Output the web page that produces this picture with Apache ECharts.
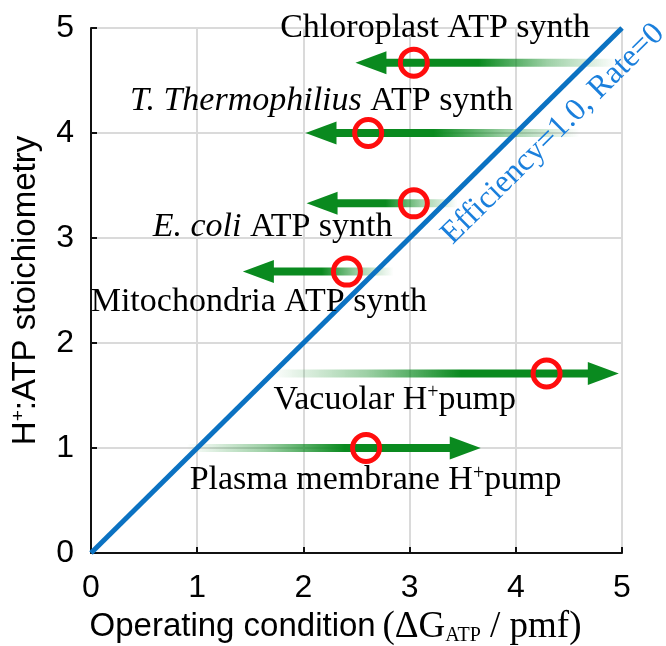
<!DOCTYPE html>
<html>
<head>
<meta charset="utf-8">
<script src="https://cdn.jsdelivr.net/npm/echarts@6/dist/echarts.min.js"></script>
<style>
  html, body { margin: 0; padding: 0; background: #fff; }
  #chart { width: 666px; height: 646px; }
</style>
</head>
<body>
<div id="chart"></div>
<script>
// axis ticks
var xTicks = [0, 1, 2, 3, 4, 5];
var yTicks = [0, 1, 2, 3, 4, 5];

// efficiency = 1 line
var idealLine = [[0, 0], [5, 5]];

// arrows: [tail x, head x, stoichiometry]
var arrows = [
    [4.95, 2.49, 4.67],
    [4.60, 2.02, 4.00],
    [3.45, 2.03, 3.33],
    [2.85, 1.43, 2.68],
    [1.70, 4.97, 1.71],
    [0.90, 3.67, 1.00]
];

// operating points (red circles)
var points = [
    [3.04, 4.67],
    [2.61, 4.00],
    [3.04, 3.33],
    [2.41, 2.68],
    [4.29, 1.71],
    [2.59, 1.00]
];

// annotation texts and their anchors
var labelNames = [
    'Chloroplast ATP synth',
    '{i|T. Thermophilius} ATP synth',
    '{i|E. coli} ATP synth',
    'Mitochondria ATP synth',
    'Vacuolar H{sup|+}pump',
    'Plasma membrane H{sup|+}pump'
];
var labelPos = [
    [3.24, 5.00],
    [2.17, 4.30],
    [1.71, 3.10],
    [1.58, 2.39],
    [2.86, 1.46],
    [2.68, 0.69]
];

var green = '#0a8a1f';
var serif = '"Liberation Serif", "DejaVu Serif", serif';
var sans = '"Liberation Sans", Arial, sans-serif';

function renderArrow(params, api) {
    var y = api.value(2);
    var p0 = api.coord([api.value(0), y]);
    var p1 = api.coord([api.value(1), y]);
    var dir = p1[0] > p0[0] ? 1 : -1;
    var headLen = 31, headHalf = 11.5, shaft = 8;
    var baseX = p1[0] - dir * headLen;
    var grad = new echarts.graphic.LinearGradient(p0[0], 0, baseX, 0, [
        { offset: 0, color: 'rgba(10,138,31,0)' },
        { offset: 0.3, color: 'rgba(10,138,31,0.4)' },
        { offset: 0.6, color: 'rgba(10,138,31,1)' },
        { offset: 1, color: green }
    ], true);
    return {
        type: 'group',
        children: [
            {
                type: 'rect',
                shape: {
                    x: Math.min(p0[0], baseX + dir),
                    y: p0[1] - shaft / 2,
                    width: Math.abs(baseX + dir - p0[0]),
                    height: shaft
                },
                style: { fill: grad }
            },
            {
                type: 'polygon',
                shape: { points: [[p1[0], p1[1]], [baseX, p1[1] - headHalf], [baseX, p1[1] + headHalf]] },
                style: { fill: green }
            }
        ]
    };
}

var chart = echarts.init(document.getElementById('chart'));

var option = {
    animation: false,
    grid: { left: 91, right: 44, top: 28, bottom: 93, containLabel: false, outerBoundsMode: 'none' },
    xAxis: {
        type: 'value',
        min: xTicks[0],
        max: xTicks[xTicks.length - 1],
        interval: 1,
        name: '{a|Operating condition}  {b|(ΔG}{c|ATP}{b| / pmf)}',
        nameLocation: 'middle',
        nameGap: 52,
        nameTextStyle: {
            padding: [0, 42, 0, 0],
            rich: {
                a: { fontFamily: sans, fontSize: 33, color: '#000' },
                b: { fontFamily: serif, fontSize: 37, color: '#000' },
                c: { fontFamily: serif, fontSize: 20, color: '#000', verticalAlign: 'bottom' }
            }
        },
        axisLine: { lineStyle: { color: '#111', width: 2 } },
        axisTick: { inside: true, length: 6, lineStyle: { color: '#111', width: 2 } },
        axisLabel: { fontFamily: sans, fontSize: 32, color: '#000', margin: 19 },
        splitLine: { show: true, lineStyle: { color: '#dadada', width: 2 } }
    },
    yAxis: {
        type: 'value',
        min: yTicks[0],
        max: yTicks[yTicks.length - 1],
        interval: 1,
        name: '{a|H}{s|+}{a|:ATP stoichiometry}',
        nameLocation: 'middle',
        nameGap: 49,
        nameTextStyle: {
            rich: {
                a: { fontFamily: sans, fontSize: 33, color: '#000' },
                s: { fontFamily: sans, fontSize: 19, color: '#000', verticalAlign: 'top' }
            }
        },
        axisLine: { lineStyle: { color: '#111', width: 2 } },
        axisTick: { inside: true, length: 6, lineStyle: { color: '#111', width: 2 } },
        axisLabel: { fontFamily: sans, fontSize: 32, color: '#000', margin: 17 },
        splitLine: { show: true, lineStyle: { color: '#dadada', width: 2 } }
    },
    series: [
        {
            type: 'custom',
            renderItem: renderArrow,
            encode: { x: [0, 1], y: 2 },
            data: arrows,
            silent: true,
            z: 2
        },
        {
            type: 'line',
            data: idealLine,
            showSymbol: false,
            silent: true,
            lineStyle: { color: '#0b72c2', width: 5 },
            z: 3
        },
        {
            type: 'scatter',
            data: points,
            symbol: 'circle',
            symbolSize: 27,
            itemStyle: { color: 'rgba(0,0,0,0)', borderColor: '#ff0d0d', borderWidth: 5, opacity: 1 },
            silent: true,
            z: 4
        },
        {
            type: 'scatter',
            symbolSize: 0,
            silent: true,
            clip: false,
            z: 5,
            itemStyle: { opacity: 1 },
            data: labelPos.map(function (p, i) {
                return { value: p, name: labelNames[i] };
            }),
            label: {
                show: true,
                position: 'inside',
                formatter: function (p) { return p.name; },
                fontFamily: serif,
                fontSize: 34,
                color: '#000',
                textBorderWidth: 0,
                rich: {
                    i: { fontFamily: serif, fontSize: 34, fontStyle: 'italic', color: '#000' },
                    sup: { fontFamily: serif, fontSize: 20, color: '#000', verticalAlign: 'top' }
                }
            }
        },
        {
            type: 'scatter',
            symbolSize: 0,
            silent: true,
            clip: false,
            z: 5,
            itemStyle: { opacity: 1 },
            data: [{ value: [4.35, 3.99], name: 'Efficiency=1.0, Rate=0' }],
            label: {
                show: true,
                position: 'inside',
                formatter: '{b}',
                rotate: 44.7,
                fontFamily: serif,
                fontSize: 32,
                color: '#1a7fdc',
                textBorderWidth: 0
            }
        }
    ]
};

chart.setOption(option);
</script>
</body>
</html>
